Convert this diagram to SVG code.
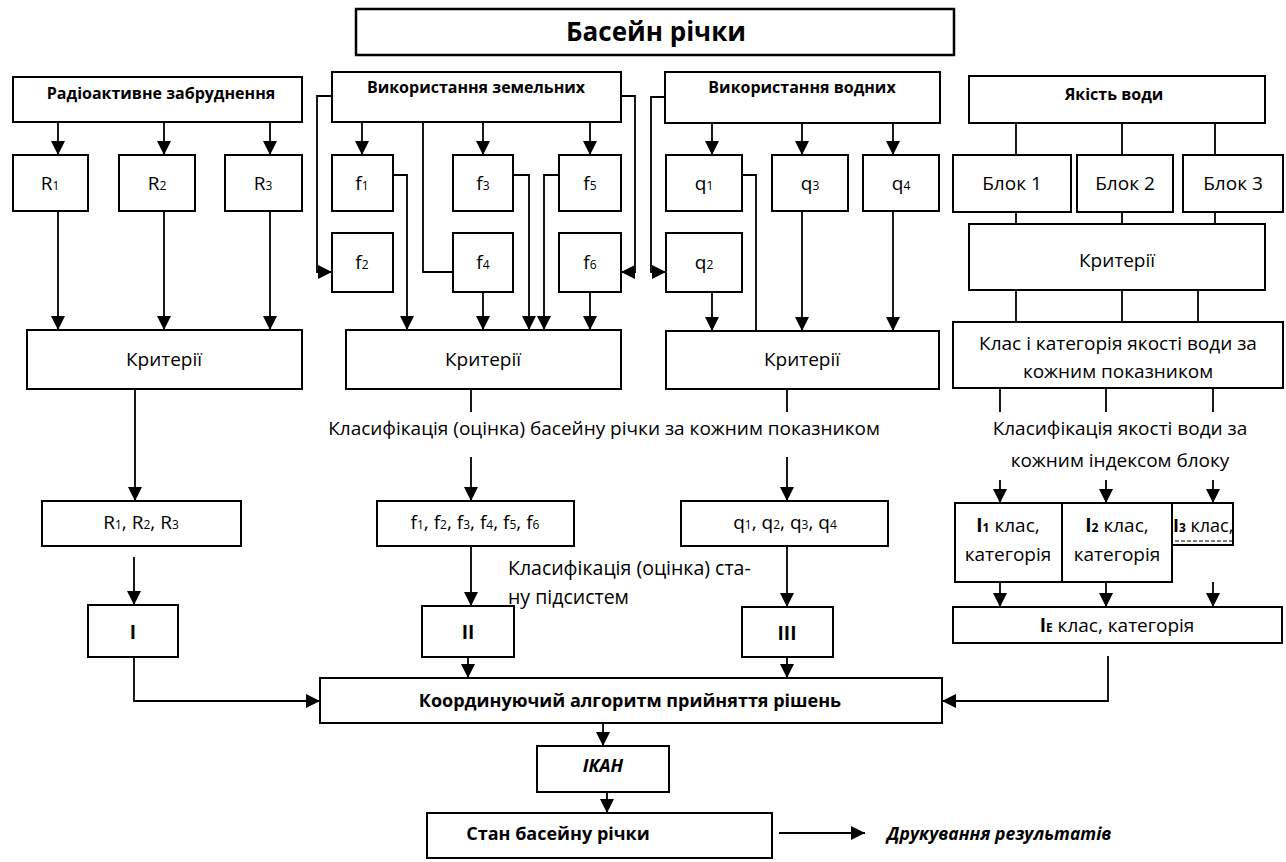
<svg xmlns="http://www.w3.org/2000/svg" width="1286" height="862" viewBox="0 0 1286 862">
<defs>
<marker id="arr" viewBox="0 0 14 14" refX="14" refY="7" markerWidth="14" markerHeight="14" orient="auto" markerUnits="userSpaceOnUse"><path d="M0,0 L14,7 L0,14 z" fill="#000"/></marker>
<clipPath id="clipI3"><rect x="1172" y="503" width="61" height="42"/></clipPath>
<style>
.box{fill:#fff;stroke:#000;stroke-width:2}
.c{fill:none;stroke:#000;stroke-width:1.8}
.a{fill:none;stroke:#000;stroke-width:1.8;marker-end:url(#arr)}
text{font-family:"Open Sans","Noto Sans","Liberation Sans",sans-serif;fill:#000}
.t{font-size:19px;text-anchor:middle}
.tl{font-size:19.5px}
.tb{font-size:16px;font-weight:bold;text-anchor:middle}
.tb2{font-size:18px;font-weight:bold;text-anchor:middle}
.ti{font-size:17.5px;font-weight:bold;font-style:italic}
.ttl{font-size:26px;font-weight:bold;text-anchor:middle}
.b{font-weight:bold}
.s{font-size:12px}
</style>
</defs>
<rect width="1286" height="862" fill="#fff"/>

<g id="connectors">
<line class="a" x1="58" y1="122" x2="58" y2="155"/>
<line class="a" x1="164" y1="122" x2="164" y2="155"/>
<line class="a" x1="270" y1="122" x2="270" y2="155"/>
<line class="a" x1="58" y1="211" x2="58" y2="330"/>
<line class="a" x1="164" y1="211" x2="164" y2="330"/>
<line class="a" x1="270" y1="211" x2="270" y2="330"/>
<line class="a" x1="135" y1="389" x2="135" y2="501"/>
<line class="a" x1="134" y1="557" x2="134" y2="605"/>
<polyline class="a" points="134,657 134,701 320,701"/>
<line class="a" x1="362" y1="122" x2="362" y2="155"/>
<line class="a" x1="483" y1="122" x2="483" y2="155"/>
<line class="a" x1="590" y1="122" x2="590" y2="155"/>
<polyline class="c" points="423,122 423,272 453,272"/>
<polyline class="a" points="332,96 317,96 317,272 332,272"/>
<polyline class="a" points="621,96 635,96 635,272 621,272"/>
<polyline class="a" points="393,175 407,175 407,330"/>
<polyline class="a" points="513,175 529,175 529,330"/>
<polyline class="a" points="559,175 544,175 544,330"/>
<line class="a" x1="483" y1="292" x2="483" y2="330"/>
<line class="a" x1="590" y1="292" x2="590" y2="330"/>
<line class="c" x1="471" y1="389" x2="471" y2="412"/>
<line class="a" x1="471" y1="457" x2="471" y2="501"/>
<line class="a" x1="471" y1="546" x2="471" y2="606"/>
<line class="a" x1="468" y1="657" x2="468" y2="678"/>
<line class="a" x1="712" y1="123" x2="712" y2="155"/>
<line class="a" x1="802" y1="123" x2="802" y2="155"/>
<line class="a" x1="893" y1="123" x2="893" y2="155"/>
<polyline class="a" points="665,97 651,97 651,272 666,272"/>
<polyline class="c" points="742,175 756,175 756,331"/>
<line class="a" x1="712" y1="292" x2="712" y2="331"/>
<line class="a" x1="802" y1="211" x2="802" y2="331"/>
<line class="a" x1="893" y1="211" x2="893" y2="331"/>
<line class="c" x1="787" y1="389" x2="787" y2="412"/>
<line class="a" x1="787" y1="457" x2="787" y2="501"/>
<line class="a" x1="787" y1="546" x2="787" y2="607"/>
<line class="a" x1="787" y1="657" x2="787" y2="678"/>
<line class="c" x1="1016" y1="123" x2="1016" y2="155"/>
<line class="c" x1="1122" y1="123" x2="1122" y2="155"/>
<line class="c" x1="1215" y1="123" x2="1215" y2="155"/>
<line class="c" x1="1016" y1="212" x2="1016" y2="224"/>
<line class="c" x1="1122" y1="212" x2="1122" y2="224"/>
<line class="c" x1="1215" y1="212" x2="1215" y2="226"/>
<line class="c" x1="1016" y1="290" x2="1016" y2="322"/>
<line class="c" x1="1122" y1="290" x2="1122" y2="322"/>
<line class="c" x1="1198" y1="290" x2="1198" y2="322"/>
<line class="c" x1="1000" y1="388" x2="1000" y2="412"/>
<line class="c" x1="1106" y1="388" x2="1106" y2="412"/>
<line class="c" x1="1213" y1="388" x2="1213" y2="412"/>
<line class="a" x1="1000" y1="480" x2="1000" y2="503"/>
<line class="a" x1="1106" y1="480" x2="1106" y2="503"/>
<line class="a" x1="1213" y1="480" x2="1213" y2="503"/>
<line class="a" x1="1000" y1="582" x2="1000" y2="607"/>
<line class="a" x1="1106" y1="582" x2="1106" y2="607"/>
<line class="a" x1="1213" y1="582" x2="1213" y2="607"/>
<polyline class="a" points="1108,656 1108,701 942,701"/>
<line class="a" x1="603" y1="723" x2="603" y2="746"/>
<line class="a" x1="607" y1="792" x2="607" y2="813"/>
<line class="a" x1="779" y1="833" x2="865" y2="833"/>
</g>

<g id="title"><rect class="box" x="356" y="9" width="598" height="46" style="stroke-width:2.5"/><text class="ttl" x="656" y="41">Басейн річки</text></g>

<g id="rad"><rect class="box" x="13" y="77" width="289" height="45"/><text class="tb" x="161" y="99">Радіоактивне забруднення</text></g>
<g id="zem"><rect class="box" x="332" y="72" width="289" height="50"/><text class="tb" x="476" y="93">Використання земельних</text></g>
<g id="vod"><rect class="box" x="665" y="72" width="275" height="51"/><text class="tb" x="802" y="93">Використання водних</text></g>
<g id="yak"><rect class="box" x="969" y="76" width="296" height="47"/><text class="tb" x="1114" y="100" style="font-size:16px">Якість води</text></g>

<g id="R1"><rect class="box" x="13" y="155" width="75" height="56"/><text class="t" x="50" y="190">R<tspan class="s">1</tspan></text></g>
<g id="R2"><rect class="box" x="119" y="155" width="76" height="56"/><text class="t" x="157" y="190">R<tspan class="s">2</tspan></text></g>
<g id="R3"><rect class="box" x="225" y="155" width="77" height="56"/><text class="t" x="263" y="190">R<tspan class="s">3</tspan></text></g>
<g id="crit1"><rect class="box" x="27" y="330" width="275" height="59"/><text class="t" x="164" y="366">Критерії</text></g>
<g id="Rsum"><rect class="box" x="42" y="501" width="199" height="45"/><text class="t" x="141" y="529">R<tspan class="s">1</tspan>, R<tspan class="s">2</tspan>, R<tspan class="s">3</tspan></text></g>
<g id="I"><rect class="box" x="88" y="605" width="90" height="52"/><text class="t b" x="133" y="639">I</text></g>

<g id="f1"><rect class="box" x="332" y="155" width="61" height="56"/><text class="t" x="362" y="190">f<tspan class="s">1</tspan></text></g>
<g id="f3"><rect class="box" x="453" y="155" width="60" height="56"/><text class="t" x="483" y="190">f<tspan class="s">3</tspan></text></g>
<g id="f5"><rect class="box" x="559" y="155" width="62" height="56"/><text class="t" x="590" y="190">f<tspan class="s">5</tspan></text></g>
<g id="f2"><rect class="box" x="332" y="233" width="61" height="59"/><text class="t" x="362" y="269">f<tspan class="s">2</tspan></text></g>
<g id="f4"><rect class="box" x="453" y="233" width="60" height="59"/><text class="t" x="483" y="269">f<tspan class="s">4</tspan></text></g>
<g id="f6"><rect class="box" x="559" y="233" width="62" height="59"/><text class="t" x="590" y="269">f<tspan class="s">6</tspan></text></g>
<g id="crit2"><rect class="box" x="346" y="330" width="275" height="59"/><text class="t" x="483" y="366">Критерії</text></g>
<g id="fsum"><rect class="box" x="377" y="501" width="197" height="45"/><text class="t" x="475" y="529">f<tspan class="s">1</tspan>, f<tspan class="s">2</tspan>, f<tspan class="s">3</tspan>, f<tspan class="s">4</tspan>, f<tspan class="s">5</tspan>, f<tspan class="s">6</tspan></text></g>
<g id="II"><rect class="box" x="422" y="606" width="92" height="51"/><text class="t b" x="468" y="639">II</text></g>

<g id="q1"><rect class="box" x="666" y="155" width="76" height="56"/><text class="t" x="704" y="190">q<tspan class="s">1</tspan></text></g>
<g id="q3"><rect class="box" x="772" y="155" width="76" height="56"/><text class="t" x="810" y="190">q<tspan class="s">3</tspan></text></g>
<g id="q4"><rect class="box" x="863" y="155" width="76" height="56"/><text class="t" x="901" y="190">q<tspan class="s">4</tspan></text></g>
<g id="q2"><rect class="box" x="666" y="233" width="76" height="59"/><text class="t" x="704" y="269">q<tspan class="s">2</tspan></text></g>
<g id="crit3"><rect class="box" x="666" y="331" width="273" height="58"/><text class="t" x="802" y="366">Критерії</text></g>
<g id="qsum"><rect class="box" x="681" y="501" width="207" height="45"/><text class="t" x="785" y="529">q<tspan class="s">1</tspan>, q<tspan class="s">2</tspan>, q<tspan class="s">3</tspan>, q<tspan class="s">4</tspan></text></g>
<g id="III"><rect class="box" x="742" y="607" width="91" height="50"/><text class="t b" x="787" y="640">III</text></g>

<g id="blok1"><rect class="box" x="953" y="155" width="118" height="57"/><text class="t" x="1012" y="190">Блок 1</text></g>
<g id="blok2"><rect class="box" x="1077" y="155" width="96" height="57"/><text class="t" x="1125" y="190">Блок 2</text></g>
<g id="blok3"><rect class="box" x="1183" y="155" width="100" height="57"/><text class="t" x="1233" y="190">Блок 3</text></g>
<g id="crit4"><rect class="box" x="969" y="224" width="296" height="66"/><text class="t" x="1117" y="267">Критерії</text></g>
<g id="klas"><rect class="box" x="953" y="322" width="330" height="66"/><text class="t" x="1118" y="350">Клас і категорія якості води за</text><text class="t" x="1118" y="378">кожним показником</text></g>
<g id="I1"><rect class="box" x="955" y="503" width="107" height="79"/><text class="t" x="1008" y="532"><tspan class="b">I</tspan><tspan class="s b">1</tspan> клас,</text><text class="t" x="1008" y="561">категорія</text></g>
<g id="I2"><rect class="box" x="1062" y="503" width="110" height="79"/><text class="t" x="1117" y="532"><tspan class="b">I</tspan><tspan class="s b">2</tspan> клас,</text><text class="t" x="1117" y="561">категорія</text></g>
<g id="I3"><rect class="box" x="1172" y="503" width="61" height="42"/><g clip-path="url(#clipI3)"><text class="tl" x="1173" y="532" style="font-size:18px"><tspan class="b">I</tspan><tspan class="s b">3</tspan> клас,</text></g><line x1="1175" y1="541" x2="1232" y2="541" stroke="#000" stroke-width="1" stroke-dasharray="4,2"/></g>
<g id="IE"><rect class="box" x="953" y="607" width="329" height="36"/><text class="t" x="1117" y="632"><tspan class="b">I</tspan><tspan class="s b">E</tspan> клас, категорія</text></g>

<g id="koord"><rect class="box" x="320" y="678" width="622" height="45"/><text class="tb2" x="630" y="707">Координуючий алгоритм прийняття рішень</text></g>
<g id="ikan"><rect class="box" x="537" y="746" width="132" height="46"/><text class="tb2" x="603" y="772" style="font-style:italic">ІКАН</text></g>
<g id="stan"><rect class="box" x="427" y="813" width="345" height="45"/><text class="tb2" x="558" y="840">Стан басейну річки</text></g>

<g id="labels">
<text class="t" x="604" y="435">Класифікація (оцінка) басейну річки за кожним показником</text>
<text class="tl" x="508" y="575">Класифікація  (оцінка)  ста-</text>
<text class="tl" x="508" y="604">ну підсистем</text>
<text class="t" x="1120" y="435">Класифікація якості води за</text>
<text class="t" x="1120" y="467">кожним індексом блоку</text>
<text class="ti" x="887" y="840">Друкування результатів</text>
</g>
</svg>
